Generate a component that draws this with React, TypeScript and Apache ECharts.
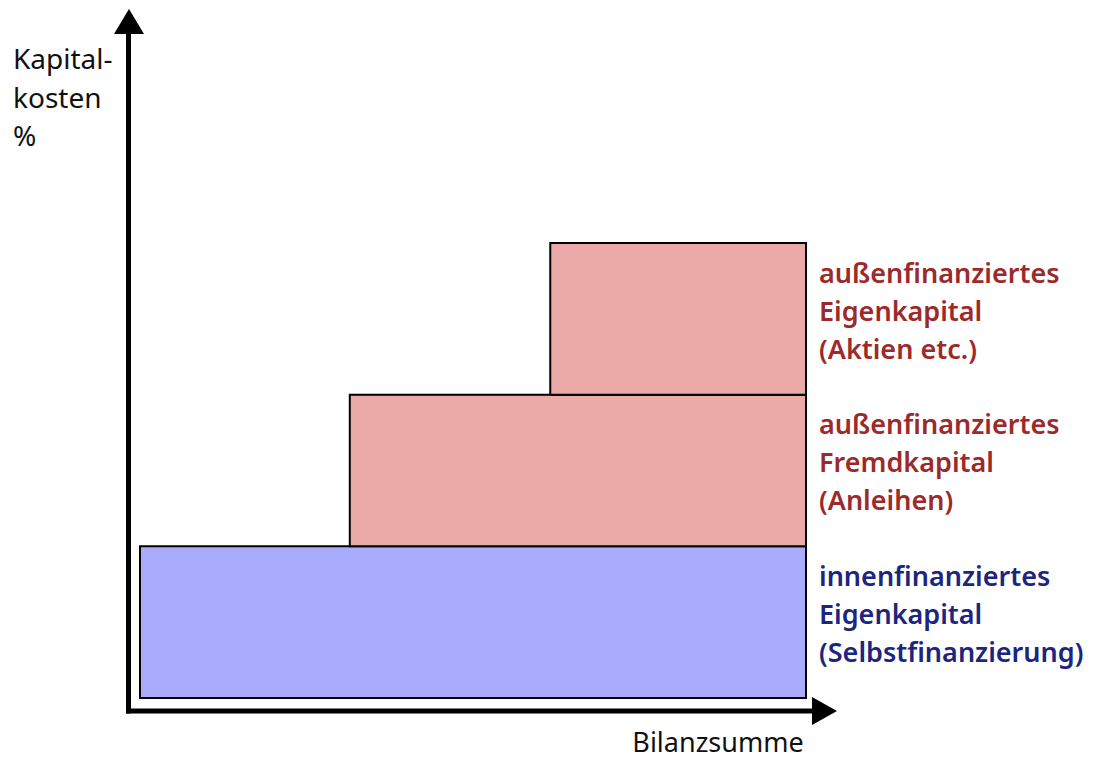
import React, { useEffect, useRef } from "react";
import * as echarts from "echarts";

// Blocks of capital sources (x = Bilanzsumme span, y = Kapitalkosten level)
const blockNames = [
  "innenfinanziertes\nEigenkapital\n(Selbstfinanzierung)",
  "außenfinanziertes\nFremdkapital\n(Anleihen)",
  "außenfinanziertes\nEigenkapital\n(Aktien etc.)",
];
const blockStart = [0, 3.15, 6.16];
const blockEnd = [10, 10, 10];
const costLow = [0, 1, 2];
const costHigh = [1, 2, 3];
const yAxisTitle = "Kapital-\nkosten\n%";
const xAxisTitle = "Bilanzsumme";

const fillColors = ["#A9ACFC", "#EBAAA8", "#EBAAA8"];
const textColors = ["#1C2580", "#9C2A2A", "#9C2A2A"];
const FONT = "'Noto Sans', Lato, sans-serif";

export default function App() {
  const ref = useRef<HTMLDivElement>(null);
  useEffect(() => {
    if (!ref.current) return;
    const chart = echarts.init(ref.current, undefined, { renderer: "svg" });
    const data = blockNames.map((n, i) => ({
      name: n,
      value: [blockStart[i], blockEnd[i], costLow[i], costHigh[i], i],
    }));
    chart.setOption({
      animation: false,
      backgroundColor: "#ffffff",
      grid: { left: 140, right: 1107 - 806, top: 15.5, bottom: 758 - 698 },
      xAxis: {
        type: "value",
        min: 0,
        max: 10,
        axisLine: { show: false },
        axisTick: { show: false },
        axisLabel: { show: false },
        splitLine: { show: false },
      },
      yAxis: {
        type: "value",
        min: 0,
        max: 4.5,
        axisLine: { show: false },
        axisTick: { show: false },
        axisLabel: { show: false },
        splitLine: { show: false },
      },
      graphic: [
        {
          type: "line",
          shape: { x1: 128.5, y1: 713.5, x2: 128.5, y2: 30 },
          style: { stroke: "#000", lineWidth: 5 },
        },
        {
          type: "polygon",
          shape: { points: [[129, 9], [144, 34], [114, 34]] },
          style: { fill: "#000" },
        },
        {
          type: "line",
          shape: { x1: 126, y1: 711, x2: 815, y2: 711 },
          style: { stroke: "#000", lineWidth: 5 },
        },
        {
          type: "polygon",
          shape: { points: [[837, 711], [812, 697], [812, 725]] },
          style: { fill: "#000" },
        },
        {
          type: "text",
          x: 13,
          y: 39,
          style: {
            text: yAxisTitle,
            font: `400 28px ${FONT}`,
            fill: "#111",
            lineHeight: 38.5,
            verticalAlign: "top",
            align: "left",
          },
        },
        {
          type: "text",
          x: 718,
          y: 741,
          style: {
            text: xAxisTitle,
            font: `400 27px ${FONT}`,
            fill: "#111",
            verticalAlign: "middle",
            align: "center",
          },
        },
      ],
      series: [
        {
          type: "custom",
          data,
          renderItem: (params: any, api: any) => {
            const x0 = api.value(0);
            const x1 = api.value(1);
            const y0 = api.value(2);
            const y1 = api.value(3);
            const idx = api.value(4);
            const p0 = api.coord([x0, y1]);
            const p1 = api.coord([x1, y0]);
            return {
              type: "group",
              children: [
                {
                  type: "rect",
                  shape: { x: p0[0], y: p0[1], width: p1[0] - p0[0], height: p1[1] - p0[1] },
                  style: { fill: fillColors[idx], stroke: "#000", lineWidth: 2 },
                },
                {
                  type: "text",
                  x: p1[0] + 13,
                  y: p0[1] + 10,
                  style: {
                    text: blockNames[idx],
                    font: `600 27px ${FONT}`,
                    fill: textColors[idx],
                    lineHeight: 38,
                    verticalAlign: "top",
                    align: "left",
                  },
                },
              ],
            };
          },
        },
      ],
    });
    return () => chart.dispose();
  }, []);
  return (
    <div
      ref={ref}
      style={{ position: "absolute", left: 0, top: 0, width: 1107, height: 758 }}
    />
  );
}
